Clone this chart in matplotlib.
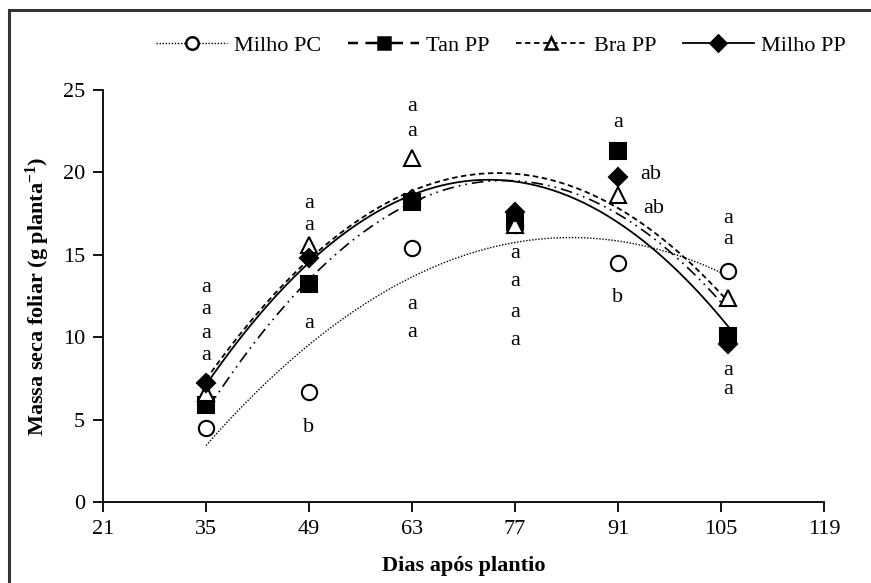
import numpy as np
import matplotlib.pyplot as plt
from matplotlib.lines import Line2D

plt.rcParams['font.family'] = ['Liberation Serif', 'DejaVu Serif']
plt.rcParams['mathtext.fontset'] = 'custom'
plt.rcParams['mathtext.rm'] = 'Liberation Serif'
plt.rcParams['mathtext.bf'] = 'Liberation Serif:bold'

# dias de coleta
dias = [35, 49, 63, 77, 91, 106]

# massa seca foliar (g planta-1)
milho_pc = [4.5, 6.7, 15.4, 16.8, 14.5, 14.0]
tan_pp = [5.9, 13.2, 18.2, 17.0, 21.3, 10.1]
bra_pp = [6.6, 15.6, 20.9, 16.8, 18.6, 12.4]
milho_pp = [7.2, 14.8, 18.4, 17.6, 19.7, 9.6]

# letras (dia, y, texto)
letras = [
    (35, 8.9, "a"), (35, 10.2, "a"), (35, 11.7, "a"), (35, 13.0, "a"),
    (49, 16.8, "a"), (49, 18.1, "a"), (49, 10.8, "a"), (49, 4.5, "b"),
    (63, 22.5, "a"), (63, 24.0, "a"), (63, 12.0, "a"), (63, 10.3, "a"),
    (77, 15.1, "a"), (77, 13.4, "a"), (77, 11.5, "a"), (77, 9.8, "a"),
    (91, 23.0, "a"), (91, 12.4, "b"),
    (106, 15.9, "a"), (106, 17.2, "a"), (106, 8.0, "a"), (106, 6.8, "a"),
]
letras_ab = [(95.5, 19.9, "ab"), (95.8, 17.8, "ab")]

series = [
    ("Milho PC", milho_pc, "o", "white", (0, (1, 1.2)), 1.0),
    ("Tan PP", tan_pp, "s", "black", (0, (7, 3, 1, 3, 1, 3)), 1.2),
    ("Bra PP", bra_pp, "^", "white", (0, (3, 2)), 1.3),
    ("Milho PP", milho_pp, "D", "black", "-", 1.3),
]

fig = plt.figure(figsize=(8.71, 5.83), dpi=100)
ax = fig.add_axes([0.1183, 0.139, 0.8277, 0.7067])

xx = np.linspace(35, 106, 200)
handles = []
for nome, vals, mk, fc, ls, lw in series:
    coef = np.polyfit(dias, vals, 2)
    ax.plot(xx, np.polyval(coef, xx), color="black", linestyle=ls, linewidth=lw, zorder=2)
    ms = 11 if mk != "D" else 9
    ax.plot(dias, vals, linestyle="none", marker=mk, markersize=ms,
            markerfacecolor=fc, markeredgecolor="black", markeredgewidth=1.5, zorder=3)
    handles.append(Line2D([], [], color="black", linestyle=(2, (6, 3)) if mk == "s" else ls,
                          linewidth=lw + 0.6 if mk == "s" else lw, marker=mk,
                          markersize=9 if mk != "D" else 8, markerfacecolor=fc,
                          markeredgecolor="black", markeredgewidth=1.8))

for d, y, t in letras:
    ax.text(d, y, t, ha="center", va="center", fontsize=16)
for d, y, t in letras_ab:
    ax.text(d, y, t, ha="center", va="center", fontsize=16)

ax.set_xlim(21, 119)
ax.set_ylim(0, 25)
ax.set_xticks(np.arange(21, 120, 14))
ax.set_yticks(np.arange(0, 26, 5))
ax.spines["top"].set_visible(False)
ax.spines["right"].set_visible(False)
ax.spines["left"].set_linewidth(1.3)
ax.spines["bottom"].set_linewidth(1.3)
ax.tick_params(direction="out", length=7, width=1.3, labelsize=16, pad=6)
ax.set_xlabel("Dias após plantio", fontsize=16, fontweight="bold", labelpad=12)
ax.set_ylabel("Massa seca foliar (g planta$\\mathbf{^{-1}}$)", fontsize=16,
              fontweight="bold", labelpad=8)

fig.legend(handles, [s[0] for s in series], loc="center", bbox_to_anchor=(0.575, 0.922),
           ncol=4, frameon=False, fontsize=16, handlelength=3.2, columnspacing=1.2,
           handletextpad=0.3)

# moldura
fig.add_artist(Line2D([9 / 871, 9 / 871], [0, 1 - 10 / 583], transform=fig.transFigure,
                      color="#333333", linewidth=2.2))
fig.add_artist(Line2D([9 / 871, 1], [1 - 10 / 583, 1 - 10 / 583], transform=fig.transFigure,
                      color="#333333", linewidth=2.2))

fig.savefig("out.png", dpi=100)
